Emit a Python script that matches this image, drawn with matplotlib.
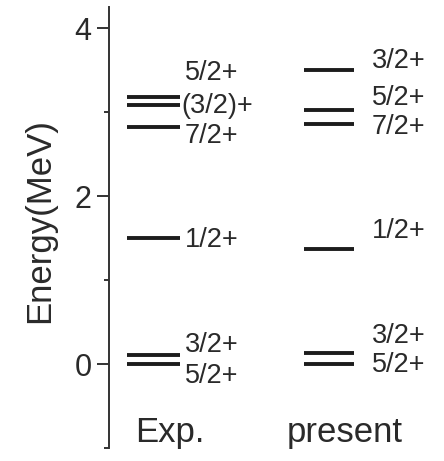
import numpy as np
import matplotlib
matplotlib.use("Agg")  # non-interactive backend
import matplotlib.pyplot as plt
from matplotlib.ticker import FixedLocator

plt.rcParams["font.family"] = ["Liberation Sans", "DejaVu Sans"]

# ------------------------------------------------------------------ #
#  Level energies (MeV) and spin-parities
# ------------------------------------------------------------------ #
exp_energy = [0.0, 0.11, 1.50, 2.82, 3.08, 3.18]
exp_jpi = ["5/2+", "3/2+", "1/2+", "7/2+", "(3/2)+", "5/2+"]

present_energy = [0.0, 0.13, 1.37, 2.86, 3.02, 3.50]
present_jpi = ["5/2+", "3/2+", "1/2+", "7/2+", "5/2+", "3/2+"]

column_names = ["Exp.", "present"]

# label heights, shifted off the levels so close lines stay readable
exp_label_y = [-0.14, 0.23, 1.48, 2.72, 3.07, 3.47]
present_label_y = [-0.01, 0.33, 1.58, 2.82, 3.17, 3.61]

LINE_COLOR = "#1c1c1c"
TEXT_COLOR = "#2a2a2a"

fig = plt.figure(figsize=(4.44, 4.61), dpi=100)
ax = fig.add_axes([109 / 444, 1 - 448 / 461, 335 / 444, 441 / 461])

# column geometry: (x start, x end, label x)
columns = [
    (0.18, 0.71, 0.76, exp_energy, exp_jpi, exp_label_y),
    (1.95, 2.45, 2.63, present_energy, present_jpi, present_label_y),
]

for x0, x1, xl, energies, jpis, label_y in columns:
    ax.hlines(energies, x0, x1, colors=LINE_COLOR, linewidth=2.8)
    for e, jp, ly in zip(energies, jpis, label_y):
        xt = xl - 0.04 if jp.startswith("(") else xl
        ax.text(xt, ly, jp, fontsize=19.5, color=TEXT_COLOR,
                ha="left", va="center")

# column names under the levels
ax.text(0.26, -0.93, column_names[0], fontsize=25, color=TEXT_COLOR,
        ha="left", va="baseline")
ax.text(1.78, -0.93, column_names[1], fontsize=25, color=TEXT_COLOR,
        ha="left", va="baseline")

ax.set_xlim(0, 3.35)
ax.set_ylim(-1, 4.25)

for side in ("top", "right", "bottom"):
    ax.spines[side].set_visible(False)
ax.spines["left"].set_linewidth(1.4)
ax.spines["left"].set_color("#333333")

ax.set_xticks([])
ax.yaxis.set_major_locator(FixedLocator([0, 2, 4]))
ax.yaxis.set_minor_locator(FixedLocator([-1, 1, 3]))
ax.tick_params(axis="y", which="major", length=8.6, width=1.4,
               color="#333333", labelsize=22, labelcolor=TEXT_COLOR, pad=4)
ax.tick_params(axis="y", which="minor", length=3.6, width=1.4,
               color="#333333")

ax.set_ylabel("Energy(MeV)", fontsize=25, color=TEXT_COLOR)
ax.yaxis.set_label_coords(-0.157, 0.515)

fig.savefig("out.png", dpi=100)
